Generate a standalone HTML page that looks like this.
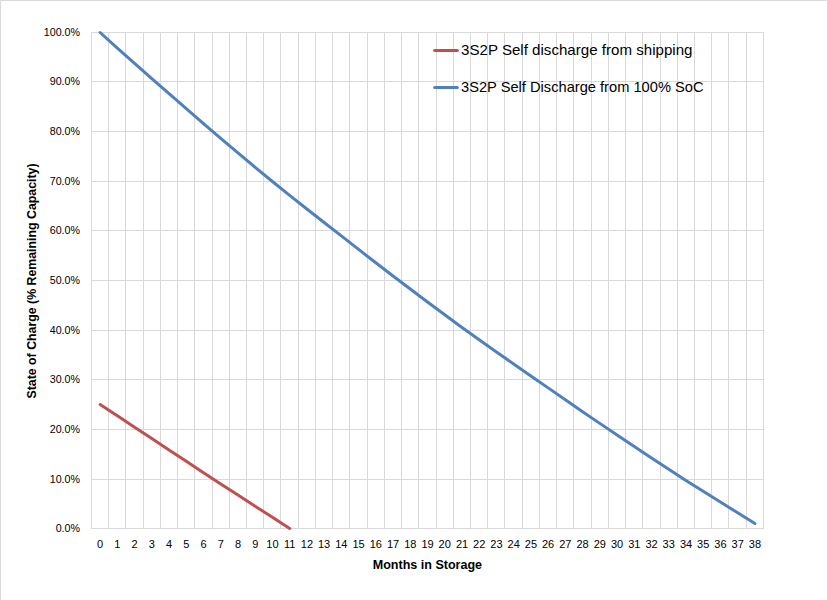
<!DOCTYPE html><html><head><meta charset="utf-8"><style>html,body{margin:0;padding:0;background:#fff;}svg{display:block;}text{font-family:"Liberation Sans",sans-serif;fill:#000;}</style></head><body>
<svg width="828" height="600" viewBox="0 0 828 600">
<rect x="0" y="0" width="828" height="600" fill="#fff"/>
<path d="M0.5 600 V0.5 H827.5 V600" fill="none" stroke="#D9D9D9" stroke-width="1"/>
<path d="M91 32.5H764M91 81.5H764M91 131.5H764M91 181.5H764M91 230.5H764M91 280.5H764M91 330.5H764M91 379.5H764M91 429.5H764M91 479.5H764M91 528.5H764M91.5 32V529M108.5 32V529M125.5 32V529M143.5 32V529M160.5 32V529M177.5 32V529M194.5 32V529M212.5 32V529M229.5 32V529M246.5 32V529M263.5 32V529M280.5 32V529M298.5 32V529M315.5 32V529M332.5 32V529M349.5 32V529M367.5 32V529M384.5 32V529M401.5 32V529M418.5 32V529M436.5 32V529M453.5 32V529M470.5 32V529M487.5 32V529M504.5 32V529M522.5 32V529M539.5 32V529M556.5 32V529M573.5 32V529M591.5 32V529M608.5 32V529M625.5 32V529M642.5 32V529M660.5 32V529M677.5 32V529M694.5 32V529M711.5 32V529M728.5 32V529M746.5 32V529M763.5 32V529" stroke="#D9D9D9" stroke-width="1" fill="none"/>
<text x="80" y="532.1" text-anchor="end" font-size="10.7">0.0%</text>
<text x="80" y="483.1" text-anchor="end" font-size="10.7">10.0%</text>
<text x="80" y="433.1" text-anchor="end" font-size="10.7">20.0%</text>
<text x="80" y="383.1" text-anchor="end" font-size="10.7">30.0%</text>
<text x="80" y="334.1" text-anchor="end" font-size="10.7">40.0%</text>
<text x="80" y="284.1" text-anchor="end" font-size="10.7">50.0%</text>
<text x="80" y="234.1" text-anchor="end" font-size="10.7">60.0%</text>
<text x="80" y="185.1" text-anchor="end" font-size="10.7">70.0%</text>
<text x="80" y="135.1" text-anchor="end" font-size="10.7">80.0%</text>
<text x="80" y="85.1" text-anchor="end" font-size="10.7">90.0%</text>
<text x="80" y="36.1" text-anchor="end" font-size="10.7">100.0%</text>
<text x="100.1" y="548.4" text-anchor="middle" font-size="11">0</text>
<text x="117.3" y="548.4" text-anchor="middle" font-size="11">1</text>
<text x="134.6" y="548.4" text-anchor="middle" font-size="11">2</text>
<text x="151.8" y="548.4" text-anchor="middle" font-size="11">3</text>
<text x="169.0" y="548.4" text-anchor="middle" font-size="11">4</text>
<text x="186.3" y="548.4" text-anchor="middle" font-size="11">5</text>
<text x="203.5" y="548.4" text-anchor="middle" font-size="11">6</text>
<text x="220.7" y="548.4" text-anchor="middle" font-size="11">7</text>
<text x="238.0" y="548.4" text-anchor="middle" font-size="11">8</text>
<text x="255.2" y="548.4" text-anchor="middle" font-size="11">9</text>
<text x="272.4" y="548.4" text-anchor="middle" font-size="11">10</text>
<text x="289.7" y="548.4" text-anchor="middle" font-size="11">11</text>
<text x="306.9" y="548.4" text-anchor="middle" font-size="11">12</text>
<text x="324.1" y="548.4" text-anchor="middle" font-size="11">13</text>
<text x="341.3" y="548.4" text-anchor="middle" font-size="11">14</text>
<text x="358.6" y="548.4" text-anchor="middle" font-size="11">15</text>
<text x="375.8" y="548.4" text-anchor="middle" font-size="11">16</text>
<text x="393.0" y="548.4" text-anchor="middle" font-size="11">17</text>
<text x="410.3" y="548.4" text-anchor="middle" font-size="11">18</text>
<text x="427.5" y="548.4" text-anchor="middle" font-size="11">19</text>
<text x="444.7" y="548.4" text-anchor="middle" font-size="11">20</text>
<text x="462.0" y="548.4" text-anchor="middle" font-size="11">21</text>
<text x="479.2" y="548.4" text-anchor="middle" font-size="11">22</text>
<text x="496.4" y="548.4" text-anchor="middle" font-size="11">23</text>
<text x="513.7" y="548.4" text-anchor="middle" font-size="11">24</text>
<text x="530.9" y="548.4" text-anchor="middle" font-size="11">25</text>
<text x="548.1" y="548.4" text-anchor="middle" font-size="11">26</text>
<text x="565.3" y="548.4" text-anchor="middle" font-size="11">27</text>
<text x="582.6" y="548.4" text-anchor="middle" font-size="11">28</text>
<text x="599.8" y="548.4" text-anchor="middle" font-size="11">29</text>
<text x="617.0" y="548.4" text-anchor="middle" font-size="11">30</text>
<text x="634.3" y="548.4" text-anchor="middle" font-size="11">31</text>
<text x="651.5" y="548.4" text-anchor="middle" font-size="11">32</text>
<text x="668.7" y="548.4" text-anchor="middle" font-size="11">33</text>
<text x="686.0" y="548.4" text-anchor="middle" font-size="11">34</text>
<text x="703.2" y="548.4" text-anchor="middle" font-size="11">35</text>
<text x="720.4" y="548.4" text-anchor="middle" font-size="11">36</text>
<text x="737.7" y="548.4" text-anchor="middle" font-size="11">37</text>
<text x="754.9" y="548.4" text-anchor="middle" font-size="11">38</text>
<polyline points="100.12,32.50 117.35,48.18 134.58,63.44 151.81,78.53 169.04,93.69 186.27,108.74 203.50,123.63 220.73,138.34 237.96,152.90 255.19,167.29 272.42,181.53 289.65,195.32 306.88,208.97 324.12,222.47 341.35,235.94 358.58,249.42 375.81,262.76 393.04,275.96 410.27,289.03 427.50,301.95 444.73,314.75 461.96,327.42 479.19,339.76 496.42,351.93 513.65,363.97 530.88,375.90 548.12,387.88 565.35,399.82 582.58,411.65 599.81,423.37 617.04,434.98 634.27,446.49 651.50,457.89 668.73,469.20 685.96,480.39 703.19,491.28 720.42,502.09 737.65,512.80 754.88,523.60" fill="none" stroke="#4F81BD" stroke-width="3" stroke-linejoin="round" stroke-linecap="round"/>
<polyline points="100.12,404.50 117.35,415.86 134.58,427.23 151.81,438.59 169.04,449.95 186.27,461.32 203.50,472.68 220.73,483.95 237.96,495.09 255.19,506.23 272.42,517.36 289.65,528.50" fill="none" stroke="#C0504D" stroke-width="3" stroke-linejoin="round" stroke-linecap="round"/>
<line x1="434.7" y1="50.5" x2="457.3" y2="50.5" stroke="#C0504D" stroke-width="3" stroke-linecap="round"/>
<line x1="434.7" y1="87.5" x2="457.3" y2="87.5" stroke="#4F81BD" stroke-width="3" stroke-linecap="round"/>
<text x="461" y="54.6" font-size="14.6" textLength="231.5" lengthAdjust="spacingAndGlyphs">3S2P Self discharge from shipping</text>
<text x="461" y="91.8" font-size="14.6" textLength="242.5" lengthAdjust="spacingAndGlyphs">3S2P Self Discharge from 100% SoC</text>
<text x="372.7" y="568.6" font-size="12.5" font-weight="bold" textLength="109.4" lengthAdjust="spacingAndGlyphs">Months in Storage</text>
<text transform="translate(36,398.5) rotate(-90)" x="0" y="0" font-size="12.2" font-weight="bold" textLength="235" lengthAdjust="spacingAndGlyphs">State of Charge (% Remaining Capacity)</text>
</svg></body></html>
